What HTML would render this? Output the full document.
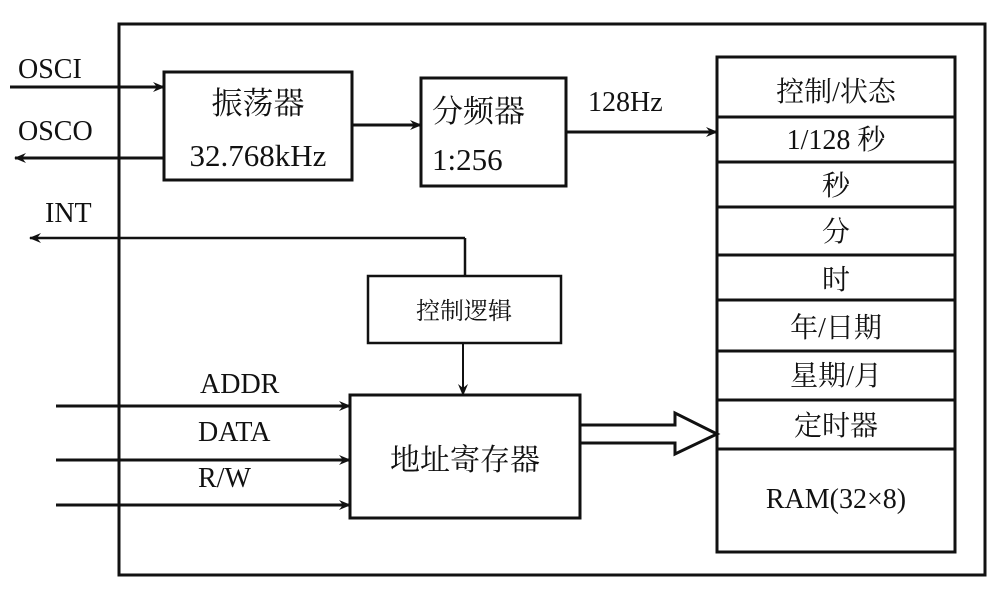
<!DOCTYPE html>
<html><head><meta charset="utf-8"><style>
html,body{margin:0;padding:0;background:#fff;}
svg text{font-family:"Liberation Serif","Noto Serif CJK SC",serif;fill:#111;}
</style></head><body>
<svg width="1003" height="595" viewBox="0 0 1003 595" xmlns="http://www.w3.org/2000/svg">
<defs>
<marker id="a" markerWidth="12" markerHeight="10" refX="11" refY="5" orient="auto" markerUnits="userSpaceOnUse">
<path d="M0,0 L12,5 L0,10 L4,5 Z" fill="#111"/></marker>
</defs>
<g stroke="#111" stroke-width="3" fill="none">
<rect x="119" y="24" width="866" height="551"/>
<rect x="164" y="72" width="188" height="108" fill="#fff"/>
<rect x="421" y="78" width="145" height="108" fill="#fff"/>
<rect x="368" y="276" width="193" height="67" stroke-width="2.5"/>
<rect x="350" y="395" width="230" height="123"/>
<rect x="717" y="57" width="238" height="495"/>
<line x1="717" y1="117" x2="955" y2="117"/>
<line x1="717" y1="162" x2="955" y2="162"/>
<line x1="717" y1="207" x2="955" y2="207"/>
<line x1="717" y1="255" x2="955" y2="255"/>
<line x1="717" y1="300" x2="955" y2="300"/>
<line x1="717" y1="351" x2="955" y2="351"/>
<line x1="717" y1="400" x2="955" y2="400"/>
<line x1="717" y1="449" x2="955" y2="449"/>
<line x1="10" y1="87" x2="164" y2="87" marker-end="url(#a)"/>
<line x1="164" y1="158" x2="15" y2="158" marker-end="url(#a)"/>
<line x1="352" y1="125" x2="421" y2="125" marker-end="url(#a)"/>
<line x1="566" y1="132" x2="717" y2="132" marker-end="url(#a)"/>
<line x1="465" y1="276" x2="465" y2="238" stroke-width="2.5"/>
<line x1="465" y1="238" x2="30" y2="238" stroke-width="2.5" marker-end="url(#a)"/>
<line x1="463" y1="343" x2="463" y2="395" stroke-width="2" marker-end="url(#a)"/>
<line x1="56" y1="406" x2="350" y2="406" marker-end="url(#a)"/>
<line x1="56" y1="460" x2="350" y2="460" marker-end="url(#a)"/>
<line x1="56" y1="505" x2="350" y2="505" marker-end="url(#a)"/>
<path d="M580,425 L675,425 L675,413 L717,434 L675,454 L675,443 L580,443" stroke-width="3"/>
</g>
<g font-size="28">
<text x="18" y="78">OSCI</text>
<text x="18" y="140">OSCO</text>
<text x="45" y="222">INT</text>
<text x="258" y="114" text-anchor="middle" font-size="31">振荡器</text>
<text x="258" y="166" text-anchor="middle" font-size="31">32.768kHz</text>
<text x="432" y="122" font-size="31">分频器</text>
<text x="432" y="170" font-size="31">1:256</text>
<text x="588" y="111">128Hz</text>
<text x="464" y="319" text-anchor="middle" font-size="24">控制逻辑</text>
<text x="200" y="393">ADDR</text>
<text x="198" y="441">DATA</text>
<text x="198" y="487">R/W</text>
<text x="465" y="470" text-anchor="middle" font-size="30">地址寄存器</text>
<g text-anchor="middle">
<text x="836" y="101">控制/状态</text>
<text x="836" y="149">1/128 秒</text>
<text x="836" y="195">秒</text>
<text x="836" y="241">分</text>
<text x="836" y="289">时</text>
<text x="836" y="337">年/日期</text>
<text x="836" y="385">星期/月</text>
<text x="836" y="435">定时器</text>
<text x="836" y="508">RAM(32×8)</text>
</g>
</g>
</svg>
</body></html>
